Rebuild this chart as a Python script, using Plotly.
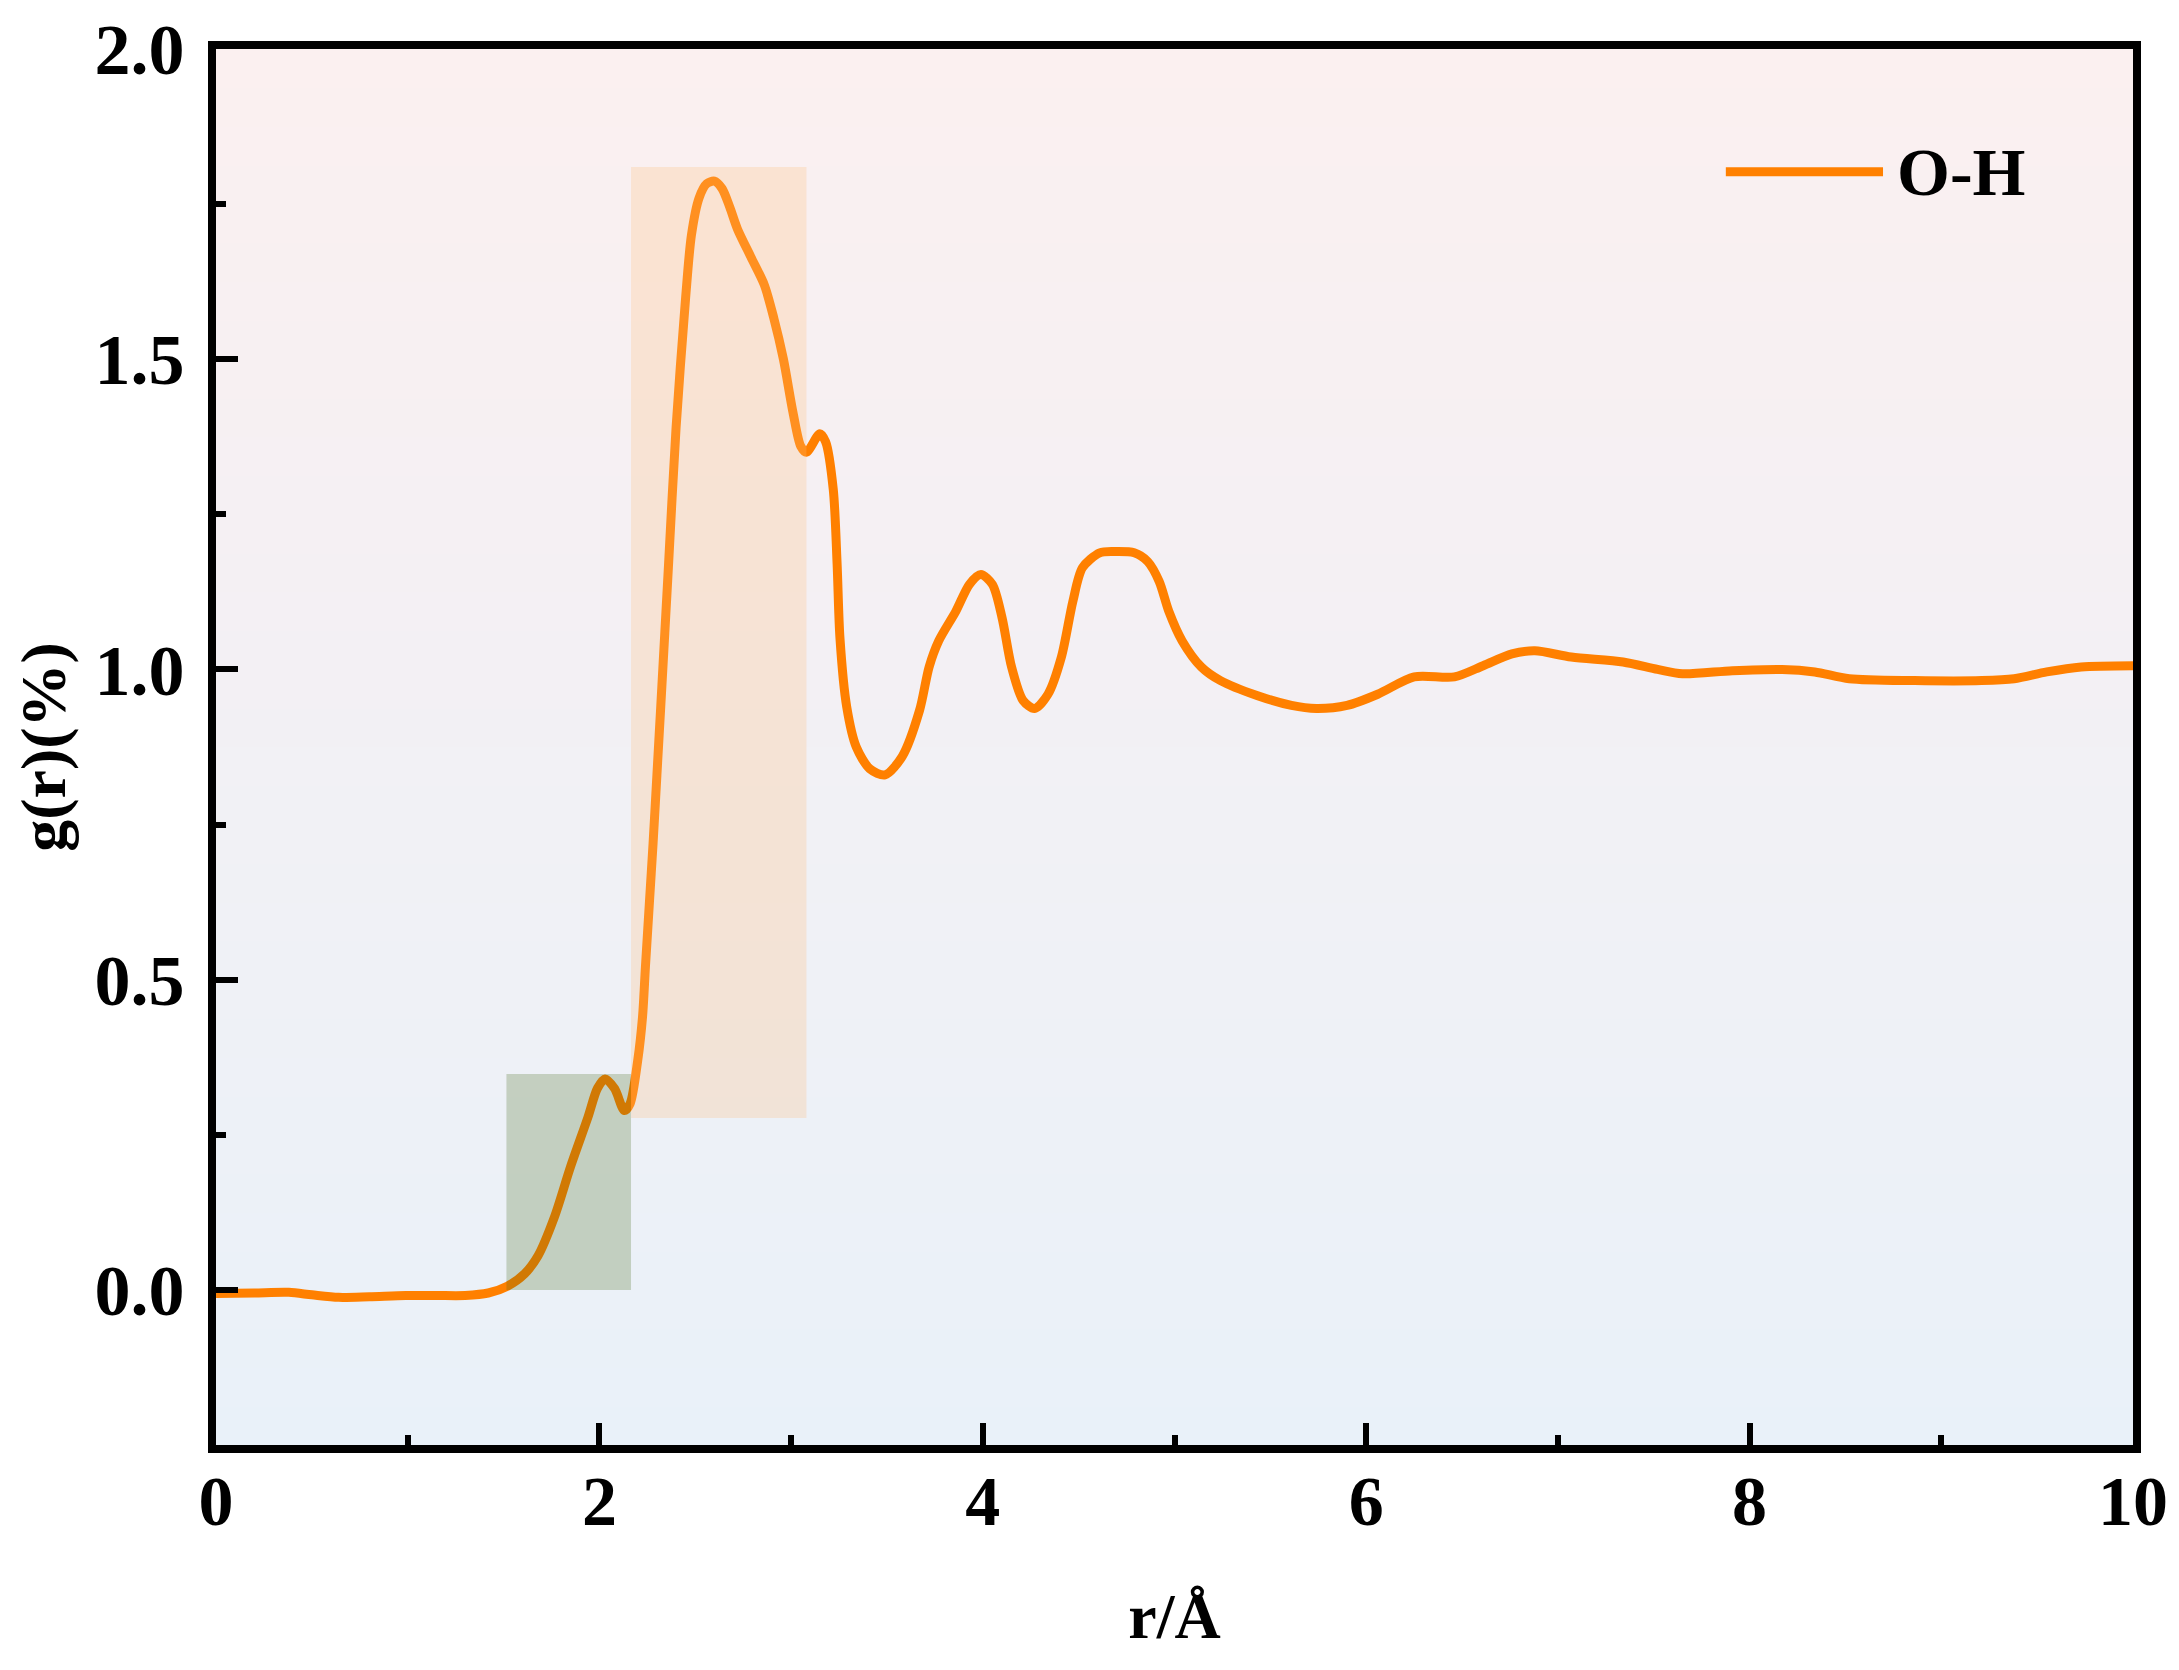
import plotly.graph_objects as go

# radial distribution function, O-H pair
R = [0.0, 0.2, 0.38, 0.5, 0.64, 0.8, 0.99, 1.15, 1.30, 1.42, 1.52, 1.61, 1.68, 1.765,
     1.85, 1.94, 1.99, 2.03, 2.08, 2.13, 2.16, 2.20, 2.225, 2.24, 2.26, 2.28, 2.30, 2.32,
     2.36, 2.40, 2.45, 2.48, 2.52, 2.56, 2.60, 2.64, 2.68, 2.72, 2.79, 2.86, 2.91, 2.96,
     3.01, 3.05, 3.08, 3.15, 3.18, 3.22, 3.24, 3.255, 3.29, 3.34, 3.41, 3.49, 3.58, 3.67,
     3.72, 3.77, 3.86, 3.93, 3.99, 4.05, 4.10, 4.15, 4.21, 4.27, 4.34, 4.41, 4.47, 4.52,
     4.61, 4.69, 4.79, 4.86, 4.92, 4.97, 5.04, 5.14, 5.24, 5.43, 5.61, 5.74, 5.90, 6.06,
     6.25, 6.46, 6.61, 6.76, 6.88, 7.07, 7.34, 7.52, 7.65, 7.91, 8.17, 8.34, 8.52, 8.86,
     9.21, 9.38, 9.55, 9.73, 10.0]
G_OH = [-0.006, -0.005, -0.004, -0.008, -0.012, -0.011, -0.009, -0.009, -0.009, -0.005,
        0.006, 0.026, 0.055, 0.117, 0.199, 0.278, 0.325, 0.340, 0.324, 0.289, 0.300, 0.370,
        0.44, 0.52, 0.62, 0.72, 0.83, 0.94, 1.165, 1.39, 1.60, 1.70, 1.76, 1.783, 1.787,
        1.775, 1.745, 1.71, 1.665, 1.62, 1.566, 1.50, 1.414, 1.36, 1.35, 1.38, 1.367, 1.29,
        1.17, 1.05, 0.94, 0.875, 0.84, 0.83, 0.86, 0.934, 1.004, 1.046, 1.094, 1.137, 1.153,
        1.137, 1.084, 1.004, 0.95, 0.937, 0.96, 1.02, 1.11, 1.164, 1.188, 1.19, 1.188,
        1.174, 1.142, 1.094, 1.046, 1.004, 0.982, 0.958, 0.942, 0.937, 0.942, 0.96, 0.988,
        0.988, 1.006, 1.025, 1.03, 1.02, 1.012, 1.0, 0.993, 0.998, 1.0, 0.996, 0.985, 0.982,
        0.982, 0.985, 0.996, 1.004, 1.006]

# highlighted regions (r0, r1, g0, g1)
FIRST_SHELL = (1.515, 2.165, 0.0, 0.348)
SECOND_SHELL = (2.165, 3.08, 0.277, 1.81)

X_RANGE = [0, 10]
Y_RANGE = [-0.25, 2.0]

FONT = "Times New Roman, Liberation Serif, serif"
LINE_COLOR = "#FF8000"

fig = go.Figure()

# gradient background: pink at top fading to light blue at bottom
fig.add_trace(go.Heatmap(
    x=X_RANGE, y=Y_RANGE, z=[[0, 0], [1, 1]],
    colorscale=[[0, "rgb(233,241,249)"], [1, "rgb(251,240,240)"]],
    zsmooth="best", showscale=False, hoverinfo="skip",
))

fig.add_trace(go.Scatter(
    x=R, y=G_OH, mode="lines", name="O-H",
    line=dict(color=LINE_COLOR, width=9, shape="spline", smoothing=0.8),
    showlegend=False,
))

fig.add_shape(type="rect", xref="x", yref="y", layer="above",
              x0=FIRST_SHELL[0], x1=FIRST_SHELL[1], y0=FIRST_SHELL[2], y1=FIRST_SHELL[3],
              fillcolor="rgba(62,102,18,0.24)", line=dict(width=0))
fig.add_shape(type="rect", xref="x", yref="y", layer="above",
              x0=SECOND_SHELL[0], x1=SECOND_SHELL[1], y0=SECOND_SHELL[2], y1=SECOND_SHELL[3],
              fillcolor="rgba(255,189,125,0.26)", line=dict(width=0))

# hand-drawn legend so the sample line is long like the original
fig.add_shape(type="line", xref="paper", yref="paper", x0=0.7876, x1=0.8696, y0=0.912, y1=0.912,
              line=dict(color=LINE_COLOR, width=9))
fig.add_annotation(xref="paper", yref="paper", x=0.8756, y=0.912, xanchor="left", yanchor="middle",
                   text="O-H", showarrow=False,
                   font=dict(family=FONT, size=68, color="black", weight="bold"))

axis_common = dict(
    showline=True, linecolor="black", linewidth=8, mirror=True,
    ticks="inside", ticklen=22, tickwidth=6, tickcolor="black",
    showgrid=False, zeroline=False, automargin=False, ticklabeloverflow="allow",
)

fig.update_xaxes(
    range=X_RANGE, tick0=0, dtick=2,
    minor=dict(ticks="inside", dtick=1, ticklen=10, tickwidth=6, tickcolor="black", showgrid=False),
    tickfont=dict(family=FONT, size=70, color="black", weight="bold"),
    title=dict(text="r/Å", standoff=57, font=dict(family=FONT, size=64, color="black", weight="bold")),
    ticklabelstandoff=-12,
    **axis_common,
)
fig.update_yaxes(
    range=Y_RANGE, tick0=0, dtick=0.5, tickformat=".1f",
    minor=dict(ticks="inside", dtick=0.25, ticklen=10, tickwidth=6, tickcolor="black", showgrid=False),
    tickfont=dict(family=FONT, size=72, color="black", weight="bold"),
    title=dict(text="g(r)(%)", standoff=36, font=dict(family=FONT, size=64, color="black", weight="bold")),
    ticklabelstandoff=9,
    **axis_common,
)

fig.update_layout(
    width=2179, height=1670,
    margin=dict(l=208, r=54, t=41, b=233),
    paper_bgcolor="white", plot_bgcolor="white",
    showlegend=False,
)

fig.write_html("out.html")
